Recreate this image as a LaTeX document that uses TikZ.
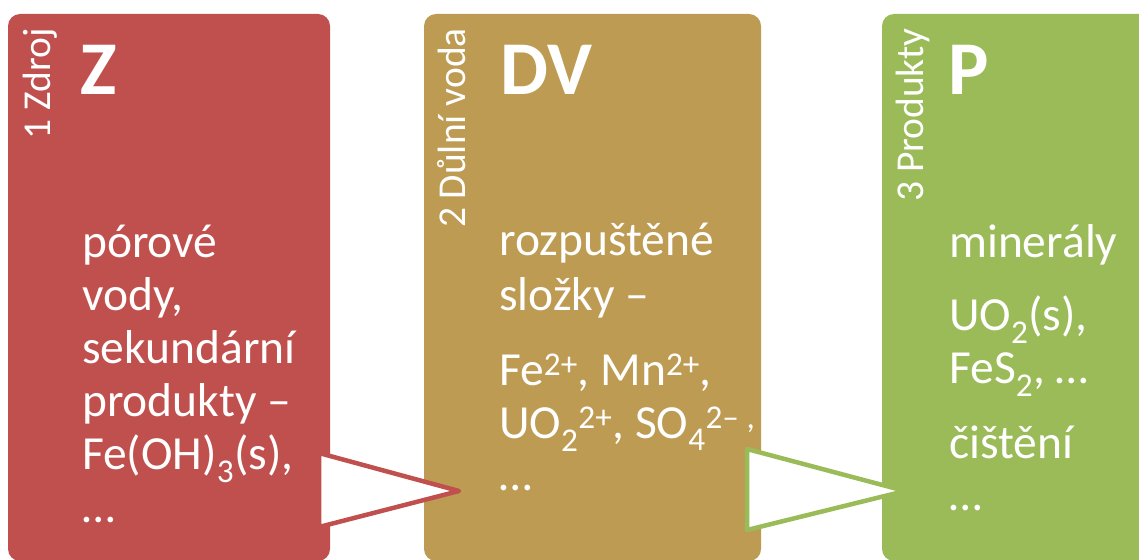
\documentclass[tikz,border=0pt]{standalone}
\usepackage{fontspec}
\setmainfont{Carlito}
\definecolor{zred}{HTML}{C0504D}
\definecolor{ztan}{HTML}{BE9B53}
\definecolor{zgreen}{HTML}{9BBB59}
\begin{document}
\begin{tikzpicture}[x=1pt,y=1pt,
  boxshape/.style={rounded corners=12pt},
  sidelabel/.style={rotate=90, anchor=base east, text=white, font=\fontsize{39.5}{44}\selectfont, inner sep=0pt},
  bigletter/.style={anchor=base west, text=white, font=\fontsize{76}{80}\selectfont\bfseries, inner sep=0pt},
  bodyline/.style={anchor=base west, text=white, font=\fontsize{47.5}{53}\selectfont, inner sep=0pt},
  flowarrow/.style={line width=4.5pt, line join=round, fill=white}]
\useasboundingbox (0,0) rectangle (1139,-559);
% boxes
\fill[zred, boxshape] (8,-14) rectangle (330,-561);
\fill[ztan, boxshape] (424,-14) rectangle (761,-561);
\fill[zgreen, boxshape] (882,-14) rectangle (1165,-561);
% side labels
\node[sidelabel] (s1) at (50,-28) {1 Zdroj};
\node[sidelabel] (s2) at (465,-28) {2 Důlní voda};
\node[sidelabel] (s3) at (923,-28) {3 Produkty};
% big letters
\node[bigletter] (b1) at (80,-95) {Z};
\node[bigletter] (b2) at (500,-95) {DV};
\node[bigletter] (b3) at (948,-95) {P};
% red box text
\node[bodyline] (r1) at (82,-257) {pórové};
\node[bodyline] (r2) at (82,-310) {vody,};
\node[bodyline] (r3) at (82,-363) {sekundární};
\node[bodyline] (r4) at (82,-416) {produkty –};
\node[bodyline] (r5) at (82,-469) {Fe(OH)\textsubscript{3}(s),};
\node[bodyline] (r6) at (82,-522) {…};
% tan box text
\node[bodyline] (t1) at (499,-255) {rozpuštěné};
\node[bodyline] (t2) at (499,-310) {složky –};
\node[bodyline] (t3) at (499,-385) {Fe\textsuperscript{2+}, Mn\textsuperscript{2+},};
\node[bodyline] (t4) at (499,-438) {UO\textsubscript{2}\textsuperscript{2+}, SO\textsubscript{4}\textsuperscript{2– ,}};
\node[bodyline] (t5) at (499,-490) {…};
% green box text
\node[bodyline] (g1) at (949,-257) {minerály};
\node[bodyline] (g2) at (949,-330) {UO\textsubscript{2}(s),};
\node[bodyline] (g3) at (949,-383) {FeS\textsubscript{2}, …};
\node[bodyline] (g4) at (949,-458) {čištění};
\node[bodyline] (g5) at (949,-510) {…};
% arrows
\coordinate (a1t) at (319,-453);
\coordinate (a1p) at (459,-491);
\coordinate (a1b) at (319,-527);
\coordinate (a2t) at (747,-449);
\coordinate (a2p) at (905,-491);
\coordinate (a2b) at (747,-530);
\draw[flowarrow, draw=zred] (a1t) -- (a1p) -- (a1b) -- cycle;
\draw[flowarrow, draw=zgreen] (a2t) -- (a2p) -- (a2b) -- cycle;
\end{tikzpicture}
\end{document}
